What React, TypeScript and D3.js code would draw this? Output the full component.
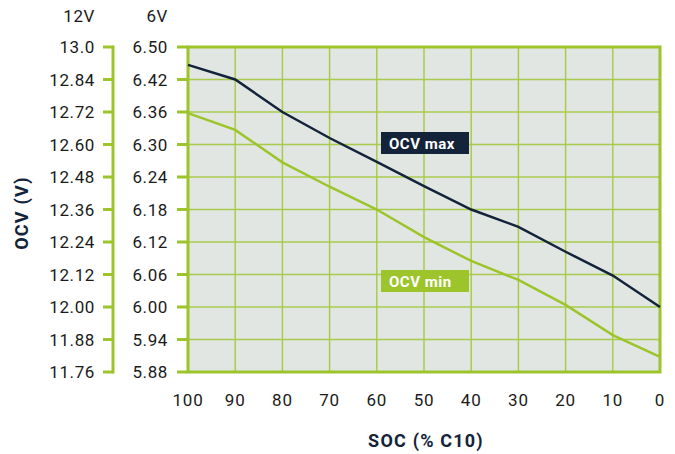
import React from "react";
import * as d3 from "d3";

const socTicks = [100, 90, 80, 70, 60, 50, 40, 30, 20, 10, 0];
const ocvMax = [6.447, 6.42, 6.36, 6.312, 6.268, 6.223, 6.18, 6.148, 6.102, 6.058, 6.0];
const ocvMin = [6.358, 6.327, 6.267, 6.222, 6.18, 6.129, 6.085, 6.05, 6.004, 5.948, 5.908];
const tickPos6 = [5.88, 5.94, 6.0, 6.06, 6.12, 6.18, 6.24, 6.3, 6.36, 6.42, 6.48];
const labels6V = ["5.88", "5.94", "6.00", "6.06", "6.12", "6.18", "6.24", "6.30", "6.36", "6.42", "6.50"];
const labels12V = ["11.76", "11.88", "12.00", "12.12", "12.24", "12.36", "12.48", "12.60", "12.72", "12.84", "13.0"];

const W = 675, H = 454;
const L = 188, R = 660, T = 47, B = 372;
const GREEN = "#9dc42b";
const GRID = "#a9cb4c";
const NAVY = "#13233a";
const BG = "#e2e6e2";
const FONT = "Roboto, 'DejaVu Sans', sans-serif";

export default function App() {
  const x = d3.scaleLinear().domain([100, 0]).range([L, R]);
  const y = d3.scaleLinear().domain([5.88, 6.48]).range([B, T]);
  const line = d3
    .line<number>()
    .x((_, i) => x(socTicks[i]))
    .y((d) => y(d));
  const axis2X = 113;

  return (
    <svg width={W} height={H} style={{ position: "absolute", left: 0, top: 0, background: "#fff" }} fontFamily={FONT}>
      <rect x={L} y={T} width={R - L} height={B - T} fill={BG} />
      {socTicks.map((s) => (
        <line key={"v" + s} x1={x(s)} x2={x(s)} y1={T} y2={B} stroke={GRID} strokeWidth={1.5} />
      ))}
      {tickPos6.map((v) => (
        <line key={"h" + v} x1={L} x2={R} y1={y(v)} y2={y(v)} stroke={GRID} strokeWidth={1.5} />
      ))}
      <rect x={L} y={T} width={R - L} height={B - T} fill="none" stroke={GREEN} strokeWidth={3} />
      {tickPos6.map((v, i) => (
        <g key={"t6" + v}>
          <line x1={L - 11} x2={L} y1={y(v)} y2={y(v)} stroke={GREEN} strokeWidth={3} />
          <text x={168} y={y(v)} dy="0.36em" textAnchor="end" fontSize={17} letterSpacing={0.6} fill="#1a1a1a">
            {labels6V[i]}
          </text>
        </g>
      ))}
      <line x1={axis2X} x2={axis2X} y1={T - 1.5} y2={B + 1.5} stroke={GREEN} strokeWidth={3} />
      {tickPos6.map((v, i) => (
        <g key={"t12" + v}>
          <line x1={axis2X - 10} x2={axis2X} y1={y(v)} y2={y(v)} stroke={GREEN} strokeWidth={3} />
          <text x={95} y={y(v)} dy="0.36em" textAnchor="end" fontSize={17} letterSpacing={0.6} fill="#1a1a1a">
            {labels12V[i]}
          </text>
        </g>
      ))}
      <text x={95} y={22} textAnchor="end" fontSize={17} letterSpacing={0.6} fill="#1a1a1a">12V</text>
      <text x={168} y={22} textAnchor="end" fontSize={17} letterSpacing={0.6} fill="#1a1a1a">6V</text>
      {socTicks.map((s) => (
        <text key={"xl" + s} x={x(s)} y={406} textAnchor="middle" fontSize={17} letterSpacing={0.8} fill="#1a1a1a">
          {s}
        </text>
      ))}
      <path d={line(ocvMin) || ""} fill="none" stroke={GREEN} strokeWidth={2.5} />
      <path d={line(ocvMax) || ""} fill="none" stroke={NAVY} strokeWidth={2.5} />
      <rect x={381} y={132} width={88} height={22} fill={NAVY} />
      <text x={389} y={149} fontSize={15} fontWeight="bold" letterSpacing={0.5} fill="#fff">OCV max</text>
      <rect x={381} y={270} width={88} height={22} fill={GREEN} />
      <text x={389} y={287} fontSize={15} fontWeight="bold" letterSpacing={0.5} fill="#fff">OCV min</text>
      <text x={426} y={447} textAnchor="middle" fontSize={18} fontWeight="bold" letterSpacing={1.2} fill={NAVY}>
        SOC (% C10)
      </text>
      <text
        transform={`translate(28,213) rotate(-90)`}
        textAnchor="middle"
        fontSize={18}
        fontWeight="bold"
        letterSpacing={1.2}
        fill={NAVY}
      >
        OCV (V)
      </text>
    </svg>
  );
}
